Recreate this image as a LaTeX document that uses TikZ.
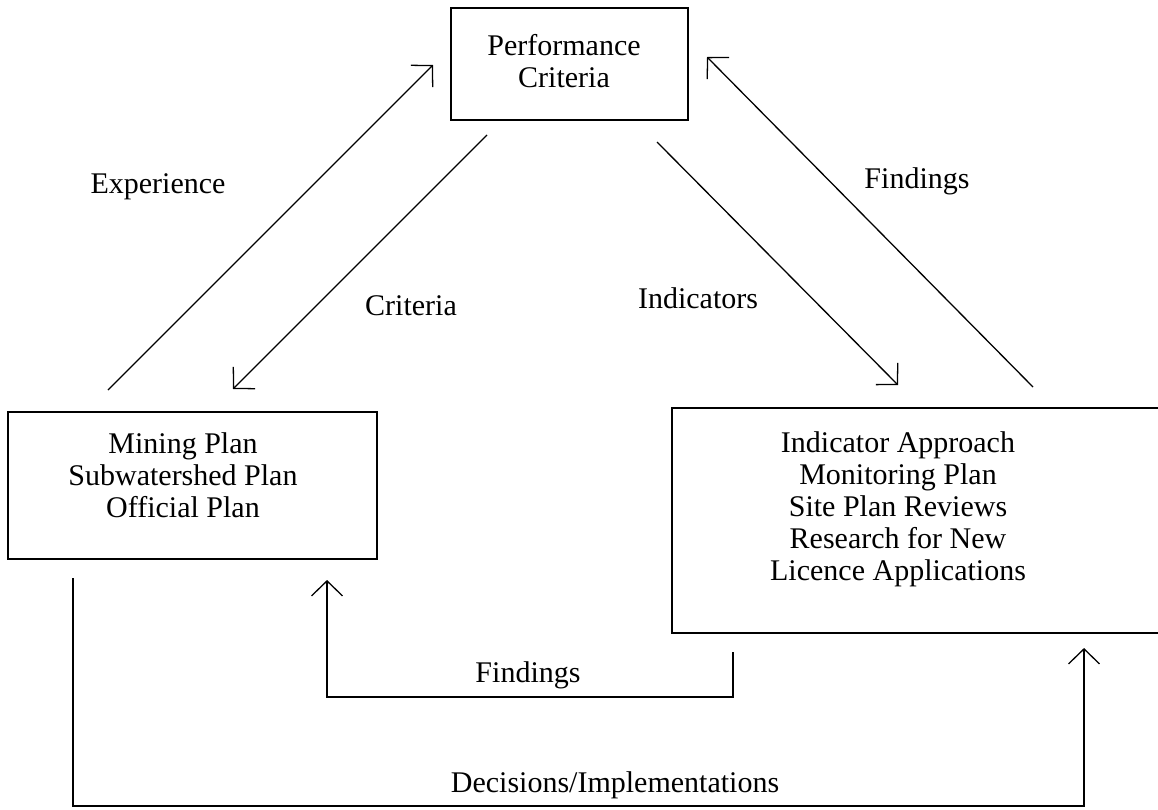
\documentclass[tikz,border=0pt]{standalone}
\usepackage{fontspec}
\setmainfont{Liberation Serif}
\usepackage{tikz}
\usetikzlibrary{arrows.meta, positioning, calc}
\tikzset{
    block/.style    ={rectangle, draw=black, line width=2pt, inner sep=0pt},
    blocktext/.style={align=center, inner sep=0pt},
    edgetext/.style ={anchor=base, inner sep=0pt},
    flowarrow/.style={-{Straight Barb[length=15pt, width=31pt]}, line width=1.3pt},
}

\begin{document}
\begin{tikzpicture}[x=1pt, y=-1pt, every node/.style={font=\fontsize{30}{32}\selectfont}]
            \useasboundingbox (0,0) rectangle (1158,809);
            % boxes
            \node[block, minimum width=237pt, minimum height=112pt] (perf) at (569.5,64) {};
            \node[blocktext] (perfText) at (564,61) {Performance\\Criteria};
            \node[block, minimum width=369pt, minimum height=147pt] (plans) at (192.5,485.5) {};
            \node[blocktext] (plansText) at (183,475) {Mining Plan\\Subwatershed Plan\\Official Plan};
            \node[block, minimum width=510pt, minimum height=225pt] (approach) at (927,520.5) {};
            \node[blocktext] (approachText) at (898,509) {Indicator Approach\\Monitoring Plan\\Site Plan Reviews\\Research for New\\Licence Applications};
            % free ends of the connectors
            \coordinate (expStart) at (108,390);
            \coordinate (expEnd) at (433,65);
            \coordinate (critStart) at (487,135);
            \coordinate (critEnd) at (233,389);
            \coordinate (indStart) at (657,142);
            \coordinate (indEnd) at (898,385);
            \coordinate (findStart) at (1033,387);
            \coordinate (findEnd) at (707,57);
            \coordinate (loopStart) at (733,652);
            \coordinate (loopEnd) at (327,580);
            \coordinate (decStart) at (73,578);
            \coordinate (decEnd) at (1084,648);
            % connectors
            \draw[flowarrow](expStart)--(expEnd);
            \draw[flowarrow](critStart)--(critEnd);
            \draw[flowarrow](indStart)--(indEnd);
            \draw[flowarrow](findStart)--(findEnd);
            \draw[flowarrow](loopStart)|-(327,697)--(loopEnd);
            \draw[flowarrow](decStart)|-(1084,806)--(decEnd);
            % labels
            \node[edgetext] (expLabel) at (158,193) {Experience};
            \node[edgetext] (critLabel) at (411,315) {Criteria};
            \node[edgetext] (indLabel) at (698,308) {Indicators};
            \node[edgetext] (findLabel) at (917,188) {Findings};
            \node[edgetext] (loopLabel) at (528,682) {Findings};
            \node[edgetext] (decLabel) at (615,792) {Decisions/Implementations};
        \end{tikzpicture}
\end{document}
